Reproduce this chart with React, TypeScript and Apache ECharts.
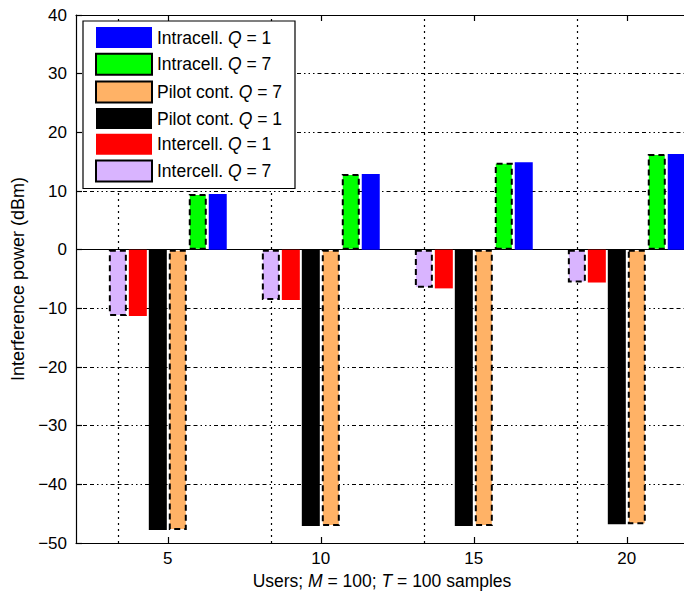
import React, { useEffect, useRef } from 'react';
import * as echarts from 'echarts';

// ---- data ----
const xTicks = [5, 10, 15, 20];
const yTicks = [-50, -40, -30, -20, -10, 0, 10, 20, 30, 40];
const intercellQ7 = [-11.3, -8.6, -6.5, -5.6];
const intercellQ1 = [-11.3, -8.6, -6.6, -5.6];
const pilotQ1 = [-47.8, -47.1, -47.1, -46.8];
const pilotQ7 = [-47.8, -47.1, -47.1, -46.8];
const intracellQ7 = [9.5, 12.9, 14.8, 16.3];
const intracellQ1 = [9.5, 12.9, 14.9, 16.3];
const seriesNames = [
  'Intercell. Q=7',
  'Intercell. Q=1',
  'Pilot cont. Q=1',
  'Pilot cont. Q=7',
  'Intracell. Q=7',
  'Intracell. Q=1',
];
const seriesValues = [intercellQ7, intercellQ1, pilotQ1, pilotQ7, intracellQ7, intracellQ1];
const legendOrder = [
  'Intracell. Q=1',
  'Intracell. Q=7',
  'Pilot cont. Q=7',
  'Pilot cont. Q=1',
  'Intercell. Q=1',
  'Intercell. Q=7',
];
const yAxisTitle = 'Interference power (dBm)';
const xAxisTitle = 'Users; {i|M} = 100; {i|T} = 100 samples';

// ---- styles ----
const seriesColors = ['#D9B4FF', '#FF0000', '#000000', '#FFB266', '#00FF00', '#0000FF'];
const seriesDashed = [true, false, false, true, true, false];
const FONT = '"Liberation Sans", Arial, Helvetica, sans-serif';
const gridDashH = [4, 3, 4, 3, 4, 3, 1.5, 3, 1.5, 3, 1.5, 3];
const gridDashV = [2, 4];

export default function App() {
  const ref = useRef<HTMLDivElement>(null);
  useEffect(() => {
    if (!ref.current) return;
    const chart = echarts.init(ref.current, undefined, { renderer: 'svg' });

    const series: any[] = seriesNames.map((name, si) => {
      const dashed = seriesDashed[si];
      const s: any = {
        type: 'bar',
        name,
        data: xTicks.map((x, i) => [x, seriesValues[si][i]]),
        barWidth: 18,
        barGap: '11%',
        xAxisIndex: 0,
        yAxisIndex: 0,
        itemStyle: {
          color: seriesColors[si],
          borderColor: dashed ? '#000' : seriesColors[si],
          borderWidth: dashed ? 2 : 0,
          borderType: dashed ? [6, 4] : 'solid',
        },
        emphasis: { disabled: true },
      };
      if (si === 0) {
        s.markLine = {
          silent: true,
          symbol: 'none',
          z: 1,
          animation: false,
          label: { show: false },
          emphasis: { disabled: true },
          data: [
            ...xTicks.map((x) => ({
              xAxis: x,
              lineStyle: { color: '#000', width: 1.2, type: gridDashV },
            })),
            { yAxis: 0, lineStyle: { color: '#000', width: 1.2, type: 'solid' } },
          ],
        };
      }
      return s;
    });

    const option: any = {
      animation: false,
      textStyle: { fontFamily: FONT },
      grid: {
        left: 76,
        top: 15,
        right: -4,
        bottom: 53,
        containLabel: false,
        outerBoundsMode: 'none',
      },
      legend: {
        orient: 'vertical',
        left: 83,
        top: 21,
        data: legendOrder,
        icon: 'rect',
        itemWidth: 56,
        itemHeight: 21,
        itemGap: 4.7,
        padding: [6, 13, 6, 12],
        backgroundColor: '#fff',
        borderColor: '#000',
        borderWidth: 1.2,
        selectedMode: false,
        z: 10,
        formatter: (name: string) => {
          const idx = name.indexOf('Q=');
          const pre = name.slice(0, idx);
          const n = name.slice(idx + 2);
          return `{t|${pre}}{q|Q}{t| = ${n}}`;
        },
        textStyle: {
          color: '#000',
          fontFamily: FONT,
          fontSize: 17.5,
          lineHeight: 21,
          rich: {
            t: { fontSize: 17.5, fontFamily: FONT, color: '#000', lineHeight: 21 },
            q: { fontSize: 17.5, fontFamily: FONT, color: '#000', fontStyle: 'italic', lineHeight: 21 },
          },
        },
      },
      xAxis: [
        {
          type: 'value',
          position: 'bottom',
          min: 2,
          max: 22,
          name: xAxisTitle,
          nameLocation: 'middle',
          nameGap: 25,
          nameTextStyle: {
            color: '#000',
            fontSize: 17.5,
            fontFamily: FONT,
            rich: { i: { fontStyle: 'italic', fontSize: 17.5, fontFamily: FONT, color: '#000' } },
          },
          axisLine: { show: true, onZero: false, lineStyle: { color: '#000', width: 1.2 } },
          axisTick: { show: true, inside: true, length: 6, customValues: xTicks, lineStyle: { color: '#000', width: 1.2 } },
          axisLabel: {
            show: true,
            customValues: xTicks,
            margin: 7,
            color: '#000',
            fontSize: 17,
            fontFamily: FONT,
          },
          splitLine: { show: false },
        },
        {
          type: 'value',
          position: 'top',
          min: 2,
          max: 22,
          axisLine: { show: true, onZero: false, lineStyle: { color: '#000', width: 1.2 } },
          axisTick: { show: true, inside: true, length: 6, customValues: xTicks, lineStyle: { color: '#000', width: 1.2 } },
          axisLabel: { show: false },
          splitLine: { show: false },
        },
      ],
      yAxis: [
        {
          type: 'value',
          min: yTicks[0],
          max: yTicks[yTicks.length - 1],
          interval: 10,
          name: yAxisTitle,
          nameLocation: 'middle',
          nameGap: 48,
          nameTextStyle: { color: '#000', fontSize: 18, fontFamily: FONT },
          axisLine: { show: true, onZero: false, lineStyle: { color: '#000', width: 1.2 } },
          axisTick: { show: true, inside: true, length: 6, lineStyle: { color: '#000', width: 1.2 } },
          axisLabel: {
            margin: 9,
            color: '#000',
            fontSize: 17,
            fontFamily: FONT,
            formatter: (v: number) => (v < 0 ? '\u2212' + Math.abs(v) : String(v)),
          },
          splitLine: { show: true, lineStyle: { color: '#000', width: 1.2, type: gridDashH } },
        },
      ],
      series,
    };
    chart.setOption(option);
    return () => chart.dispose();
  }, []);
  return (
    <div
      ref={ref}
      style={{ position: 'absolute', left: 0, top: 0, width: 684, height: 596, background: '#fff' }}
    />
  );
}
